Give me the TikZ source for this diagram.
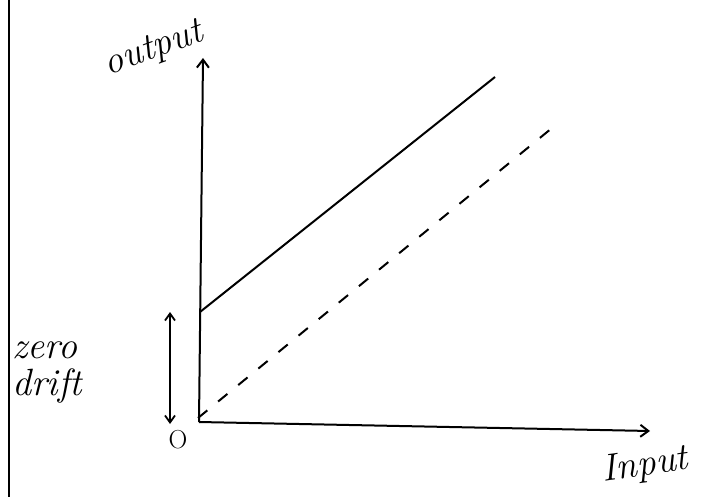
\documentclass[tikz,border=0pt]{standalone}
\usetikzlibrary{arrows.meta}
\begin{document}
\begin{tikzpicture}[x=1pt,y=-1pt,
  axis/.style={line width=2pt,-{Straight Barb[length=8pt,width=12pt]}},
  ink/.style={line width=2pt},
  lbl/.style={font=\itshape\fontsize{38}{42}\selectfont,inner sep=0pt}]
\useasboundingbox (0,0) rectangle (704,497);
% left border
\coordinate (bt) at (9,0);
\coordinate (bb) at (9,497);
\draw[ink] (bt) -- (bb);
% axes
\coordinate (o) at (199,422);
\coordinate (yt) at (203,58);
\coordinate (xt) at (650,431);
\draw[axis] (o) -- (yt);
\draw[axis] (o) -- (xt);
% lines
\coordinate (s0) at (200,312);
\coordinate (s1) at (495,77);
\draw[ink] (s0) -- (s1);
\coordinate (d0) at (198,418);
\coordinate (d1) at (552,128);
\draw[ink,dash pattern=on 12pt off 14pt] (d0) -- (d1);
% zero drift arrow
\coordinate (z0) at (170,312);
\coordinate (z1) at (170,424);
\draw[line width=1.8pt,{Straight Barb[length=7pt,width=10pt]}-{Straight Barb[length=7pt,width=10pt]}] (z0) -- (z1);
% labels
\node[lbl,rotate=20] (out) at (154,50) {output};
\node[lbl,rotate=8] (inp) at (645,466) {Input};
\node[font=\fontsize{26}{30}\selectfont,inner sep=0pt] (zo) at (178,440) {O};
\node[lbl,anchor=west] (zero) at (12,350) {zero};
\node[lbl,anchor=west] (drift) at (12,386) {drift};
\end{tikzpicture}
\end{document}
